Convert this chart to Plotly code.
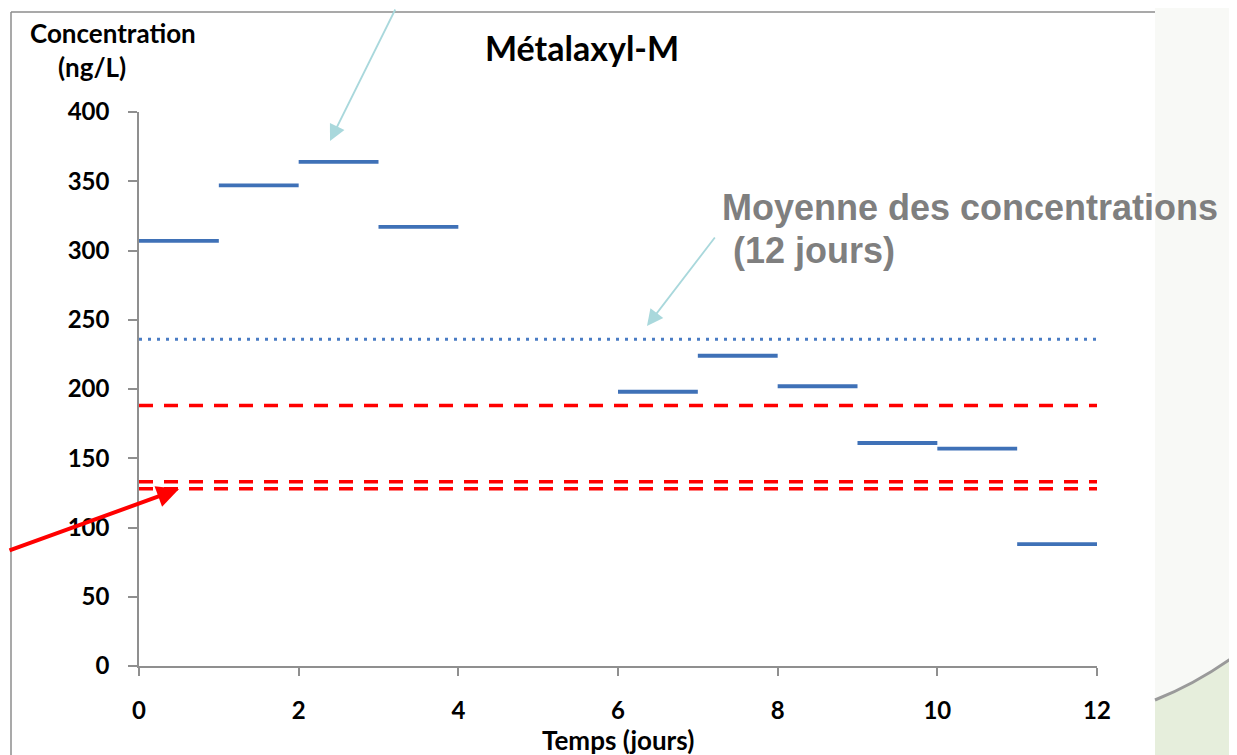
import plotly.graph_objects as go

# ---- data ----
day_start = [0, 1, 2, 3, 6, 7, 8, 9, 10, 11]
day_end = [1, 2, 3, 4, 7, 8, 9, 10, 11, 12]
concentration = [307, 347, 364, 317, 198, 224, 202, 161, 157, 88]
mean_conc = 236
threshold_values = [188, 133, 128]
x_ticks = [0, 2, 4, 6, 8, 10, 12]
y_ticks = [0, 50, 100, 150, 200, 250, 300, 350, 400]

# page body has an 8px margin: compensate
OFF = 8
W, H = 1237 - OFF, 755 - OFF
L, R, T, B = 139, 1097, 112, 666  # target screen pixels of the plot area


def px(xp):
    return (xp - L) / (R - L)


def py(yp):
    return (B - yp) / (B - T)


fig = go.Figure()

# step segments
xs, ys = [], []
for s, e, c in zip(day_start, day_end, concentration):
    xs += [s, e, None]
    ys += [c, c, None]
fig.add_trace(go.Scatter(x=xs, y=ys, mode="lines",
                         line=dict(color="#3f71b7", width=3.8),
                         hoverinfo="skip", showlegend=False))

# mean line (dotted)
fig.add_trace(go.Scatter(x=[0, 12], y=[mean_conc, mean_conc], mode="lines",
                         line=dict(color="#4a7cc4", width=3, dash="3px,6px"),
                         hoverinfo="skip", showlegend=False))

# red dashed thresholds
for v in threshold_values:
    fig.add_trace(go.Scatter(x=[0, 12], y=[v, v], mode="lines",
                             line=dict(color="#ff0000", width=3.5, dash="14px,11px"),
                             hoverinfo="skip", showlegend=False))

font_main = "Lato, 'Open Sans', sans-serif"
font_grey = "'Liberation Sans', Arial, sans-serif"

shapes = [
    # slide decoration on the right
    dict(type="rect", xref="paper", yref="paper", x0=px(1155), x1=px(1240),
         y0=py(760), y1=py(-5), fillcolor="#f8f9f6", line=dict(width=0), layer="below"),
    dict(type="path", xref="paper", yref="paper",
         path=f"M {px(1155)},{py(700)} Q {px(1200)},{py(682)} {px(1240)},{py(652)} "
              f"L {px(1240)},{py(760)} L {px(1155)},{py(760)} Z",
         fillcolor="#e6eedc", line=dict(width=0), layer="below"),
    dict(type="path", xref="paper", yref="paper",
         path=f"M {px(1155)},{py(700)} Q {px(1200)},{py(682)} {px(1240)},{py(652)}",
         line=dict(color="#9a9a9a", width=3), layer="below"),
    # frame lines
    dict(type="line", xref="paper", yref="paper", x0=px(11), x1=px(1155),
         y0=py(12), y1=py(12), line=dict(color="#8c8c8c", width=1.5)),
    dict(type="line", xref="paper", yref="paper", x0=px(11), x1=px(11),
         y0=py(12), y1=py(760), line=dict(color="#8c8c8c", width=1.5)),
]

annotations = [
    dict(text="<b>Métalaxyl-M</b>", x=px(582), y=py(47), xref="paper", yref="paper",
         showarrow=False, font=dict(family=font_main, size=34, color="#000000"),
         xanchor="center", yanchor="middle"),
    dict(text="<b>Concentration</b>", x=px(113), y=py(33), xref="paper", yref="paper",
         showarrow=False, font=dict(family=font_main, size=26, color="#000000"),
         xanchor="center", yanchor="middle"),
    dict(text="<b>(ng/L)</b>", x=px(92), y=py(67), xref="paper", yref="paper",
         showarrow=False, font=dict(family=font_main, size=26, color="#000000"),
         xanchor="center", yanchor="middle"),
    dict(text="<b>Moyenne des concentrations</b>", x=px(720), y=py(207), xref="paper",
         yref="paper", showarrow=False,
         font=dict(family=font_grey, size=36, color="#7f7f7f"),
         xanchor="left", yanchor="middle"),
    dict(text="<b>(12 jours)</b>", x=px(731), y=py(250), xref="paper",
         yref="paper", showarrow=False,
         font=dict(family=font_grey, size=36, color="#7f7f7f"),
         xanchor="left", yanchor="middle"),
    dict(text="<b>Temps (jours)</b>", x=px(618), y=py(740), xref="paper", yref="paper",
         showarrow=False, font=dict(family=font_main, size=26, color="#000000"),
         xanchor="center", yanchor="middle"),
    # teal arrows
    dict(text="", x=px(330), y=py(141), xref="paper", yref="paper", showarrow=True,
         ax=66, ay=-150, arrowhead=2, arrowsize=1.8, arrowwidth=1.8,
         arrowcolor="#a9d8dc"),
    dict(text="", x=px(647), y=py(326), xref="paper", yref="paper", showarrow=True,
         ax=69, ay=-90, arrowhead=2, arrowsize=1.8, arrowwidth=1.8,
         arrowcolor="#a9d8dc"),
    # red arrow
    dict(text="", x=px(179), y=py(489), xref="paper", yref="paper", showarrow=True,
         ax=-195, ay=62, arrowhead=2, arrowsize=1.1, arrowwidth=4,
         arrowcolor="#ff0000"),
]

fig.update_layout(
    width=W, height=H,
    margin=dict(l=L - OFF, r=W - (R - OFF), t=T - OFF, b=H - (B - OFF), pad=0),
    paper_bgcolor="#ffffff", plot_bgcolor="#ffffff",
    showlegend=False,
    shapes=shapes,
    annotations=annotations,
    xaxis=dict(range=[0, 12], tickvals=x_ticks, ticktext=[f"<b>{v}</b>" for v in x_ticks],
               showgrid=False, zeroline=False, showline=True, linecolor="#8f8f8f",
               linewidth=1.5, ticks="outside", ticklen=8, tickcolor="#8f8f8f",
               tickwidth=1.5, ticklabelstandoff=14,
               tickfont=dict(family=font_main, size=24, color="#000000")),
    yaxis=dict(range=[0, 400], tickvals=y_ticks, ticktext=[f"<b>{v}</b>" for v in y_ticks],
               showgrid=False, zeroline=False, showline=True, linecolor="#8f8f8f",
               linewidth=1.5, ticks="outside", ticklen=9, tickcolor="#8f8f8f",
               tickwidth=1.5, ticklabelstandoff=14,
               tickfont=dict(family=font_main, size=24, color="#000000")),
)

fig.write_html("out.html")
